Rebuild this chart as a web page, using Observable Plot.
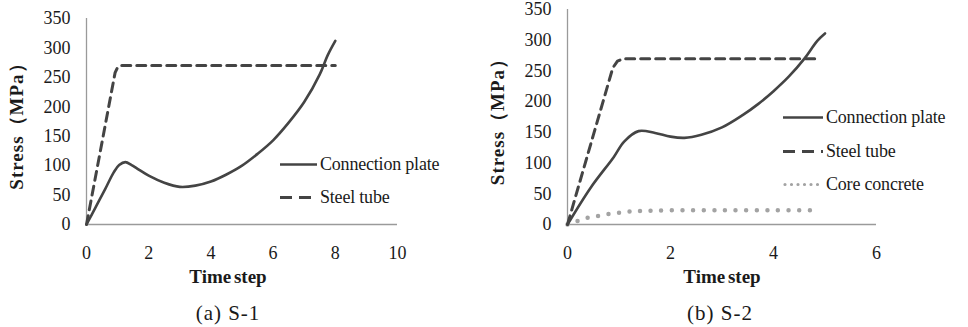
<!DOCTYPE html>
<html><head><meta charset="utf-8">
<script src="https://cdn.jsdelivr.net/npm/d3@7"></script>
<script src="https://cdn.jsdelivr.net/npm/@observablehq/plot@0.6"></script>
<style>
body{margin:0;background:#fff;}
#wrap{position:relative;width:968px;height:327px;overflow:hidden;color:#1a1a1a;background:#fff;}
.panel{position:absolute;top:0;}
g[aria-label="y-axis label"] text{font-weight:bold;font-size:19px;letter-spacing:1px;}
g[aria-label="x-axis label"] text{font-weight:bold;font-size:19px;word-spacing:-2px;}
.cap{position:absolute;font-size:21px;transform:translate(-50%,-50%);white-space:nowrap;letter-spacing:1px;}
.leg{position:absolute;font-size:18px;display:flex;align-items:center;white-space:nowrap;transform:translateY(-50%);letter-spacing:-0.2px;}
.leg svg{display:block;margin-right:3px;}
</style></head>
<body><div id="wrap" style="font-family:'Liberation Serif', serif"></div>
<script>
// ---- data ----
const yTicks = [0, 50, 100, 150, 200, 250, 300, 350];
const xTicksA = [0, 2, 4, 6, 8, 10];
const xTicksB = [0, 2, 4, 6];
const seriesNames = ["Connection plate", "Steel tube", "Core concrete"];
const captions = ["(a) S-1", "(b) S-2"];
const xTitle = "Time step";
const yTitle = "Stress（MPa）";

// S-1
const s1PlateT = [0, 0.3, 0.6, 0.88, 1.05, 1.25, 1.45, 1.63, 2.0, 2.5, 3.0, 3.5, 4.0, 4.5, 5.0, 5.5, 6.0, 6.5, 7.0, 7.5, 7.75, 8.0];
const s1PlateS = [0, 30, 60, 89, 101, 106, 101, 95, 83, 71, 64, 66, 73, 85, 100, 120, 143, 173, 208, 255, 287, 312];
const s1TubeT = [0, 0.5, 0.92, 1.0, 1.1, 3, 5, 8];
const s1TubeS = [0, 140, 258, 267, 270, 270, 270, 270];

// S-2
const s2PlateT = [0, 0.45, 0.9, 1.1, 1.38, 1.7, 2.0, 2.27, 2.6, 3.0, 3.4, 3.7, 4.0, 4.3, 4.6, 4.85, 5.0];
const s2PlateS = [0, 60, 110, 135, 152, 149, 143, 141, 146, 158, 178, 196, 217, 241, 270, 299, 311];
const s2TubeT = [0, 0.5, 0.88, 0.97, 1.08, 3, 4.87];
const s2TubeS = [0, 145, 255, 266, 270, 270, 270];
const s2CoreT = [0, 0.2, 0.4, 0.6, 0.8, 1.0, 1.2, 1.5, 2.0, 3.0, 4.0, 4.85];
const s2CoreS = [0, 6, 11, 14, 17, 19, 21, 22, 23, 23, 23, 23];

const zip = (t, s) => t.map((x, i) => ({t: x, s: s[i]}));

const lineColor = "#444";
const dotColor = "#a3a3a3";
const axisColor = "#9a9a9a";
const serif = "'Liberation Serif', serif";

function panel(opts) {
  return Plot.plot({
    width: opts.width, height: 290,
    marginLeft: opts.ml, marginRight: opts.mr, marginTop: opts.mt, marginBottom: 66,
    x: {domain: opts.xdom},
    y: {domain: [0, 350]},
    style: {fontFamily: serif, fontSize: "18px", color: "#1a1a1a", background: "transparent", overflow: "visible"},
    marks: [
      Plot.axisX({ticks: opts.xticks, tickFormat: d => String(d), tickSize: 0, tickPadding: 22, label: xTitle, labelAnchor: "center", labelOffset: 58, labelArrow: "none"}),
      Plot.axisY({ticks: yTicks, tickFormat: d => String(d), tickSize: 0, tickPadding: 16, label: yTitle, labelAnchor: "center", labelOffset: 77, labelArrow: "none"}),
      Plot.ruleX([0], {stroke: axisColor, strokeWidth: 1.3}),
      Plot.ruleY([0], {stroke: axisColor, strokeWidth: 1.3}),
      ...opts.marks
    ]
  });
}

const wrap = document.getElementById("wrap");

function place(node, left, xLabelShift) {
  const d = document.createElement("div"); d.className = "panel"; d.style.left = left + "px";
  d.appendChild(node); wrap.appendChild(d);
  const g = node.querySelector('g[aria-label="x-axis label"]');
  if (g && xLabelShift) g.setAttribute("transform", `translate(${xLabelShift},0) ` + (g.getAttribute("transform") || ""));
}

place(panel({
  width: 440, ml: 86, mr: 43, mt: 18, xdom: [0, 10], xticks: xTicksA,
  marks: [
    Plot.line(zip(s1TubeT, s1TubeS), {x: "t", y: "s", stroke: lineColor, strokeWidth: 3, strokeDasharray: "9,6", curve: "linear"}),
    Plot.line(zip(s1PlateT, s1PlateS), {x: "t", y: "s", stroke: lineColor, strokeWidth: 2.6, curve: "catmull-rom"})
  ]
}), 0, -14);

place(panel({
  width: 488, ml: 87, mr: 92, mt: 9, xdom: [0, 6], xticks: xTicksB,
  marks: [
    Plot.line(zip(s2CoreT, s2CoreS), {x: "t", y: "s", stroke: dotColor, strokeWidth: 4.5, strokeDasharray: "0,10.6", strokeLinecap: "round", curve: "catmull-rom"}),
    Plot.line(zip(s2TubeT, s2TubeS), {x: "t", y: "s", stroke: lineColor, strokeWidth: 3, strokeDasharray: "9,6", curve: "linear"}),
    Plot.line(zip(s2PlateT, s2PlateS), {x: "t", y: "s", stroke: lineColor, strokeWidth: 2.6, curve: "catmull-rom"})
  ]
}), 480, 0);

// captions
[[228, 313], [720, 313]].forEach((pos, i) => {
  const c = document.createElement("div"); c.className = "cap";
  c.style.left = pos[0] + "px"; c.style.top = pos[1] + "px";
  c.textContent = captions[i]; wrap.appendChild(c);
});

// legends
const styles = [
  {dash: null, color: lineColor, w: 2.6, cap: "butt"},
  {dash: "12,7", color: lineColor, w: 3, cap: "butt"},
  {dash: "0,6.5", color: dotColor, w: 3.2, cap: "round"}
];
function legend(x, y, idx, len) {
  const el = document.createElement("div"); el.className = "leg";
  el.style.left = x + "px"; el.style.top = y + "px";
  const st = styles[idx];
  const svg = d3.create("svg").attr("width", len).attr("height", 10);
  svg.append("line").attr("x1", st.cap === "round" ? 2 : 0).attr("x2", len).attr("y1", 5).attr("y2", 5)
    .attr("stroke", st.color).attr("stroke-width", st.w).attr("stroke-linecap", st.cap)
    .attr("stroke-dasharray", st.dash);
  el.appendChild(svg.node());
  const sp = document.createElement("span"); sp.textContent = seriesNames[idx]; el.appendChild(sp);
  wrap.appendChild(el);
}
legend(280, 164, 0, 37);
legend(280, 197, 1, 37);
legend(783, 117, 0, 40);
legend(783, 151, 1, 40);
legend(783, 184, 2, 40);
</script>
</body></html>
